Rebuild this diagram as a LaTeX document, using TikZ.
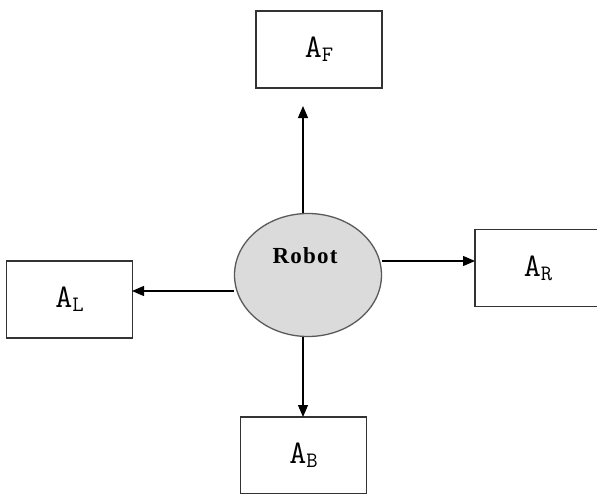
\documentclass[tikz,border=0pt]{standalone}
\usepackage{fontspec}
\setmainfont{Liberation Serif}
\usetikzlibrary{arrows.meta,shapes.geometric}
\newcommand{\lblA}[1]{{\ttfamily\fontsize{33}{33}\selectfont A\raisebox{-0.12em}{\fontsize{22}{22}\selectfont #1}}}
\tikzset{
  box/.style={draw=black!80, line width=1.5pt, fill=white, minimum width=126pt, minimum height=77pt, inner sep=0pt},
  robotnode/.style={ellipse, draw=black!65, line width=1.3pt, fill=black!14, minimum width=147pt, minimum height=123pt, inner sep=0pt},
  arr/.style={line width=1.2pt, -{Triangle[length=12pt,width=10pt]}},
}
\begin{document}
\begin{tikzpicture}[x=1pt,y=1pt]
\useasboundingbox (0,0) rectangle (597,-493);
\clip (0,0) rectangle (597,-493);
\node[robotnode] (robot) at (308,-275) {};
\node[font=\bfseries\fontsize{23}{23}\selectfont] (rlabel) at (305,-256) {R\kern1.2pt o\kern1.2pt b\kern1.2pt o\kern1.2pt t};
\node[box] (af) at (319,-49.5) {\lblA{F}};
\node[box] (ar) at (538,-268) {\lblA{R}};
\node[box] (al) at (69.5,-299.5) {\lblA{L}};
\node[box] (ab) at (303.5,-455.5) {\lblA{B}};
\coordinate (tF) at (303,-106);
\coordinate (tR) at (475,-261);
\coordinate (tL) at (132,-291);
\coordinate (tB) at (303,-417);
\draw[arr] (robot.north -| tF) -- (tF);
\draw[arr] (robot.east |- tR) -- (tR);
\draw[arr] (robot.west |- tL) -- (tL);
\draw[arr] (robot.south -| tB) -- (tB);
\end{tikzpicture}
\end{document}
